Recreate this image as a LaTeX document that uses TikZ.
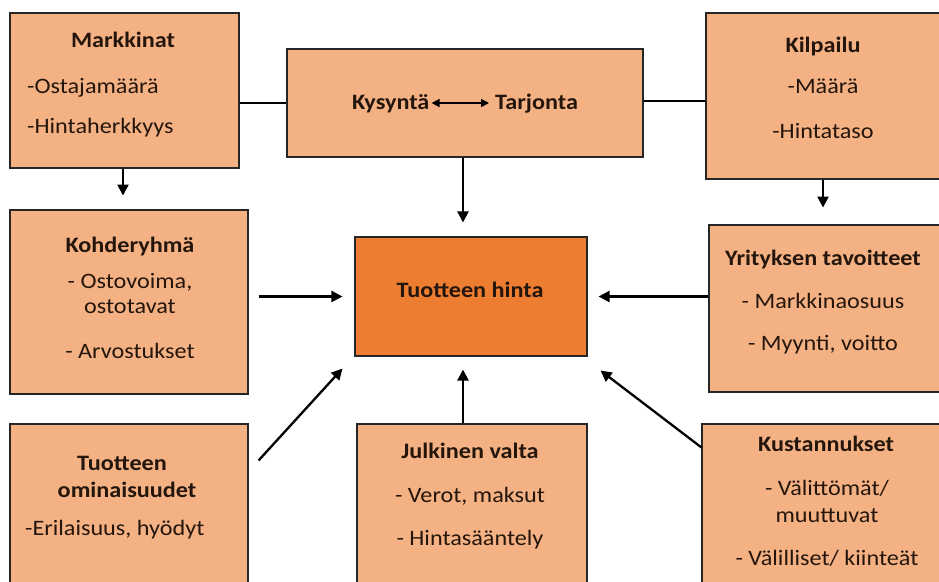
\documentclass[tikz,border=0pt]{standalone}
\usepackage{fontspec}
\setmainfont{Carlito}[FakeStretch=1.1]
\usetikzlibrary{arrows.meta,calc}
\definecolor{boxfill}{HTML}{F4B183}
\definecolor{corefill}{HTML}{ED7D31}
\definecolor{ink}{HTML}{24160C}
\tikzset{
  factor/.style={draw=black!85, line width=1.1pt, fill=boxfill, inner sep=0pt},
  core/.style={factor, fill=corefill},
  head/.style={font=\fontsize{22}{26}\selectfont\bfseries, text=ink, inner sep=0pt, anchor=base},
  item/.style={font=\fontsize{22}{26}\selectfont, text=ink, inner sep=0pt, anchor=base},
  itemL/.style={item, anchor=base west},
  link/.style={line width=2.3pt, black},
  flow/.style={link, -{Triangle[length=11pt,width=11pt]}},
  swap/.style={line width=1.6pt, black, {Triangle[length=8pt,width=8pt]}-{Triangle[length=8pt,width=8pt]}},
}
\begin{document}
\begin{tikzpicture}[x=1pt,y=-1pt]
\useasboundingbox (0,0) rectangle (939,581);
\clip (0,0) rectangle (939,581);

% boxes
\node[factor, minimum width=229pt, minimum height=155pt] (mark) at (124.5,90.5) {};
\node[factor, minimum width=356pt, minimum height=108pt] (kys) at (465,103) {};
\node[factor, minimum width=240pt, minimum height=166pt] (kil) at (826,96) {};
\node[factor, minimum width=238pt, minimum height=184pt] (koh) at (129,302) {};
\node[core,   minimum width=232pt, minimum height=119pt] (hinta) at (471,296.5) {};
\node[factor, minimum width=238pt, minimum height=167pt] (yri) at (828,308.5) {};
\node[factor, minimum width=238pt, minimum height=166pt] (tuo) at (129,507) {};
\node[factor, minimum width=230pt, minimum height=166pt] (jul) at (472,507) {};
\node[factor, minimum width=246pt, minimum height=166pt] (kus) at (825,507) {};

% texts
\node[head] (markT) at (123,47) {Markkinat};
\node[itemL] (mark1) at (27,93) {-Ostajamäärä};
\node[itemL] (mark2) at (27,133) {-Hintaherkkyys};

\node[head, anchor=base west] (kysL) at (352,109) {Kysyntä};
\node[head, anchor=base west] (kysR) at (495,109) {Tarjonta};

\node[head] (kilT) at (823,52) {Kilpailu};
\node[item] (kil1) at (823,93) {-Määrä};
\node[item] (kil2) at (823,138) {-Hintataso};

\node[head] (kohT) at (130,252) {Kohderyhmä};
\node[item] (koh1) at (130,288) {- Ostovoima,};
\node[item] (koh2) at (130,313) {ostotavat};
\node[item] (koh3) at (130,358) {- Arvostukset};

\node[head] (hintaT) at (470,297) {Tuotteen hinta};

\node[head] (yriT) at (823,265) {Yrityksen tavoitteet};
\node[item] (yri1) at (823,308) {- Markkinaosuus};
\node[item] (yri2) at (823,350) {- Myynti, voitto};

\node[head] (tuoT1) at (122,470) {Tuotteen};
\node[head] (tuoT2) at (127,497) {ominaisuudet};
\node[itemL] (tuo1) at (25,535) {-Erilaisuus, hyödyt};

\node[head] (julT) at (470,458) {Julkinen valta};
\node[item] (jul1) at (470,502) {- Verot, maksut};
\node[item] (jul2) at (470,545) {- Hintasääntely};

\node[head] (kusT) at (826,451) {Kustannukset};
\node[item] (kus1) at (827,495) {- Välittömät/};
\node[item] (kus2) at (827,522) {muuttuvat};
\node[item] (kus3) at (827,565) {- Välilliset/ kiinteät};

% demand <-> supply
\draw[swap] ($(kysL.base east)+(2,-6)$) -- ($(kysR.base west)+(-6,-6)$);

% plain links between the top boxes
\draw[link] (mark.east |- kys.west) -- (kys.west);
\draw[link] ($(kys.east)+(0,-2)$) -- ($(kys.east -| kil.west)+(0,-2)$);

% downward arrows from the top corners
\coordinate (markTip) at ($(mark.south)+(-1.5,27)$);
\draw[flow] ($(mark.south)+(-1.5,0)$) -- (markTip);
\coordinate (kilTip) at ($(kil.south)+(-3,28)$);
\draw[flow] ($(kil.south)+(-3,0)$) -- (kilTip);

% influences on the price
\coordinate (colm) at (463,0);
\draw[flow] (colm |- kys.south) -- ($(colm |- hinta.north)+(0,-14)$);
\draw[flow] ($(koh.east |- hinta.west)+(10,0)$) -- ($(hinta.west)+(-12,0)$);
\draw[flow] (yri.west |- hinta.east) -- ($(hinta.east)+(11,0)$);
\draw[flow] (colm |- jul.north) -- ($(colm |- hinta.south)+(0,13)$);
\draw[flow] ($(tuo.north east)+(10,37)$) -- ($(hinta.south west)+(-12,12)$);
\draw[flow] ($(kus.north west)+(0,24)$) -- ($(hinta.south east)+(13,14)$);
\end{tikzpicture}
\end{document}
